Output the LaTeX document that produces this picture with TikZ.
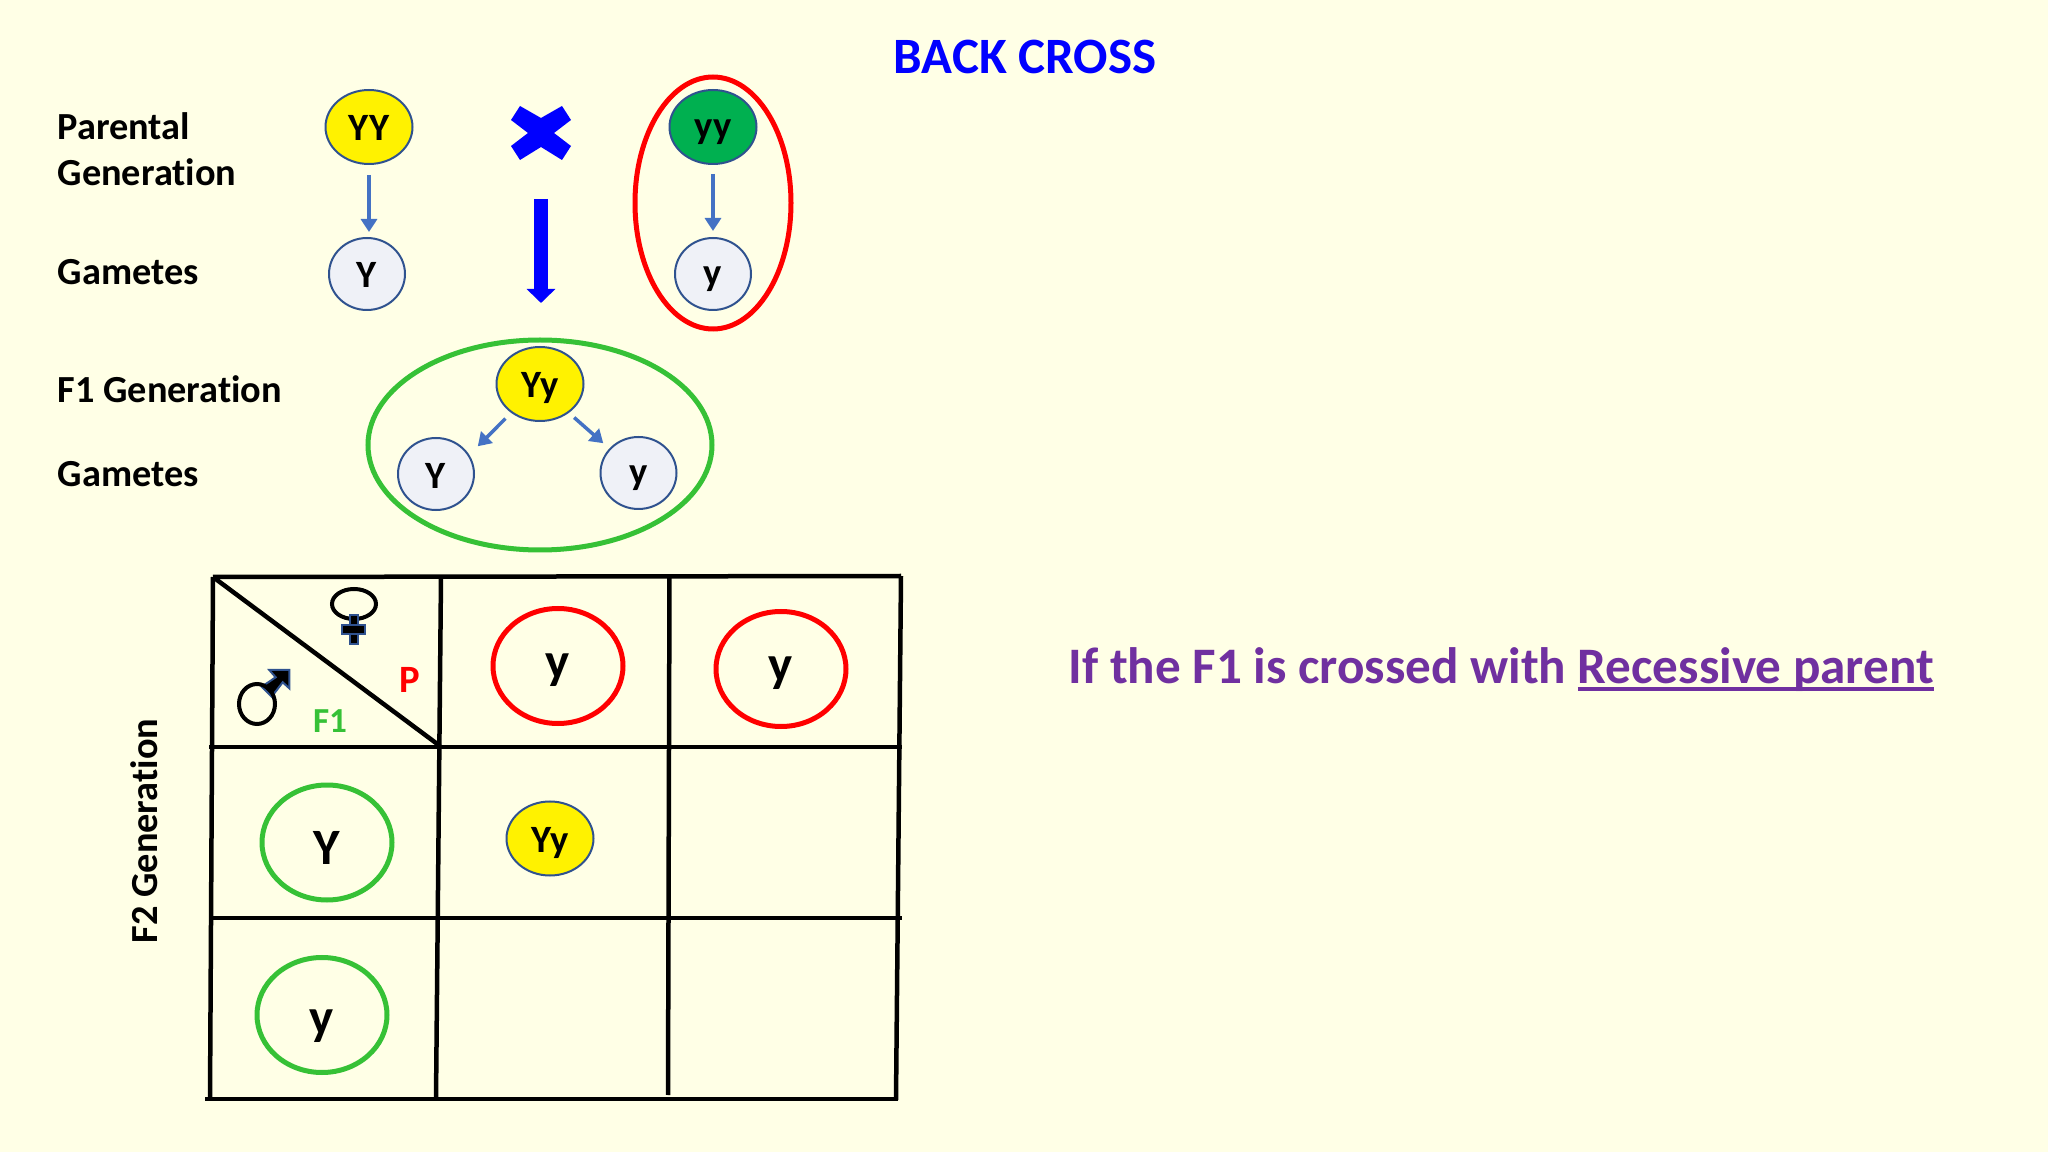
\documentclass[tikz,border=0pt]{standalone}
\usepackage{fontspec}
\setmainfont{Carlito}[Ligatures=NoCommon]
\usetikzlibrary{shapes.geometric,arrows.meta}
\definecolor{paper}{HTML}{FFFFE6}
\definecolor{edgeblue}{HTML}{2F528F}
\definecolor{arrowblue}{HTML}{4472C4}
\definecolor{gamfill}{HTML}{EFF1F7}
\definecolor{dgreen}{HTML}{00B050}
\definecolor{lgreen}{HTML}{36C136}
\definecolor{deeppurple}{HTML}{7030A0}
\newcommand{\pxfont}[1]{\fontsize{#1}{#1}\selectfont\bfseries}
\newcommand{\ruled}[1]{\setbox0\hbox{#1}\rlap{\rule[-0.07cm]{\wd0}{0.035cm}}\box0}
\tikzset{
    drop/.style={text height=#1,text depth=0cm},
    zygote/.style={ellipse,draw=edgeblue,line width=0.2mm,minimum width=0.87cm,minimum height=0.74cm,inner sep=0,text=black,font=\pxfont{11},drop=0.28cm},
    gamete/.style={ellipse,draw=edgeblue,fill=gamfill,line width=0.2mm,minimum width=0.76cm,minimum height=0.72cm,inner sep=0,text=black,font=\pxfont{11},drop=0.28cm},
    ring/.style={ellipse,draw=#1,line width=0.5mm,minimum width=1.30cm,minimum height=1.15cm,inner sep=0,text=black,font=\pxfont{14.5}},
    label/.style={anchor=base west,inner sep=0,font=\pxfont{10.9}},
    thinarrow/.style={arrowblue,line width=0.35mm,-{Triangle[length=1.3mm,width=1.6mm]}},
    bigarrow/.style={blue,line width=1.35mm,-{Triangle[length=1.4mm,width=2.8mm]}},
    gridline/.style={line width=0.45mm,black},
    symbol/.style={draw=edgeblue,fill=black,line width=0.2mm}
}
\begin{document}
\begin{tikzpicture}
    \useasboundingbox[fill=paper] (0,0) rectangle (20.48,-11.52);
    %% Titles
    \node[anchor=base west,inner sep=0,blue,font=\pxfont{14.5}] (title) at (8.93,-0.74) {BACK CROSS};
    \node[anchor=base west,inner sep=0,deeppurple,font=\pxfont{14.56}] (note) at (10.68,-6.84) {If the F1 is crossed with \ruled{Recessive parent}};
    %% Row labels
    \node[label] (lparental) at (0.57,-1.40) {Parental};
    \node[label] (lgeneration) at (0.57,-1.86) {Generation};
    \node[label] (lgam) at (0.57,-2.85) {Gametes};
    \node[label] (lfone) at (0.57,-4.03) {F1 Generation};
    \node[label] (lgamb) at (0.57,-4.86) {Gametes};
    \node[label,rotate=90,anchor=base] (lftwo) at (1.57,-8.31) {F2 Generation};
    %% Parents and gametes
    \node[zygote,fill=yellow] (YYp) at (3.69,-1.27) {YY};
    \node[zygote,fill=dgreen,drop=0.24cm] (yyp) at (7.13,-1.27) {yy};
    \node[gamete] (Yg) at (3.67,-2.74) {Y};
    \node[gamete,drop=0.24cm] (yg) at (7.13,-2.74) {y};
    \draw[thinarrow,shorten <=0.1cm,shorten >=0.05cm] (YYp) -- (YYp |- Yg.north);
    \draw[thinarrow,shorten <=0.09cm,shorten >=0.06cm] (yyp) -- (yg);
    \node[ellipse,draw=red,line width=0.5mm,minimum width=1.56cm,minimum height=2.52cm,inner sep=0] (pring) at (7.13,-2.03) {};
    %% Cross mark
    \coordinate (cross) at (5.41,-1.33);
    \fill[blue,shift={(cross)}] (0,0.15) -- (0.21,0.27) -- (0.30,0.13) -- (0.13,0) -- (0.30,-0.13) -- (0.21,-0.27)
        -- (0,-0.14) -- (-0.21,-0.27) -- (-0.30,-0.13) -- (-0.13,0) -- (-0.30,0.13) -- (-0.21,0.27) -- cycle;
    %% F1 and its gametes
    \node[zygote,fill=yellow] (Yyf) at (5.40,-3.84) {Yy};
    \node[gamete] (Ygf) at (4.36,-4.74) {Y};
    \node[gamete,drop=0.24cm] (ygf) at (6.385,-4.73) {y};
    \draw[bigarrow,shorten <=0.66cm,shorten >=0.43cm] (cross) -- (cross |- Yyf.north);
    \draw[thinarrow,shorten <=0.08cm,shorten >=0.12cm] (Yyf.225) -- (Ygf.30);
    \draw[thinarrow,shorten <=0.07cm,shorten >=0.08cm] (Yyf.315) -- (ygf.140);
    \node[ellipse,draw=lgreen,line width=0.5mm,minimum width=3.44cm,minimum height=2.10cm,inner sep=0] (fring) at (5.40,-4.45) {};
    %% Grid corners
    \coordinate (a0) at (2.13,-5.77);
    \coordinate (a1) at (4.41,-5.77);
    \coordinate (a2) at (6.695,-5.76);
    \coordinate (a3) at (9.01,-5.76);
    \coordinate (b0) at (2.10,-10.99);
    \coordinate (b1) at (4.36,-10.99);
    \coordinate (b2) at (6.68,-10.95);
    \coordinate (b3) at (8.96,-11.00);
    \draw[gridline] (a0) -- (a3);
    \draw[gridline] (a0) -- (b0);
    \draw[gridline] (a1) -- (b1);
    \draw[gridline] (a2) -- (b2);
    \draw[gridline] (a3) -- (b3);
    \draw[gridline] (2.09,-7.47) -- (9.02,-7.47);
    \draw[gridline] (2.09,-9.18) -- (9.02,-9.18);
    \draw[gridline] (2.05,-10.99) -- (8.98,-10.99);
    \draw[gridline] (a0) -- (4.40,-7.46);
    %% Corner cell
    \node[ellipse,draw=black,line width=0.4mm,minimum width=0.44cm,minimum height=0.30cm,inner sep=0] (fem) at (3.54,-6.04) {};
    \filldraw[symbol] (3.50,-6.15) rectangle (3.58,-6.44);
    \filldraw[symbol] (3.42,-6.25) rectangle (3.65,-6.34);
    \filldraw[symbol] (2.617,-6.867) -- (2.757,-6.773) -- (2.693,-6.70) -- (2.893,-6.70)
        -- (2.893,-6.883) -- (2.827,-6.823) -- (2.717,-6.967) -- cycle;
    \node[ellipse,draw=black,line width=0.4mm,minimum width=0.36cm,minimum height=0.40cm,inner sep=0] (mal) at (2.57,-7.04) {};
    \node[anchor=base,inner sep=0,red,font=\pxfont{11}] (lp) at (4.10,-6.93) {P};
    \node[anchor=base,inner sep=0,lgreen,font=\pxfont{10}] (lf) at (3.30,-7.32) {F1};
    %% Parent gametes
    \node[ring=red,drop=0.24cm] (py) at (5.58,-6.66) {y};
    \node[ring=red,drop=0.26cm] (pz) at (7.81,-6.69) {y};
    %% F1 gametes
    \node[ring=lgreen,drop=0.44cm] (fY) at (3.27,-8.425) {Y};
    \node[ring=lgreen,drop=0.38cm] (fy) at (3.22,-10.15) {y};
    %% Offspring
    \node[zygote,fill=yellow] (Yyo) at (5.50,-8.385) {Yy};
\end{tikzpicture}
\end{document}
